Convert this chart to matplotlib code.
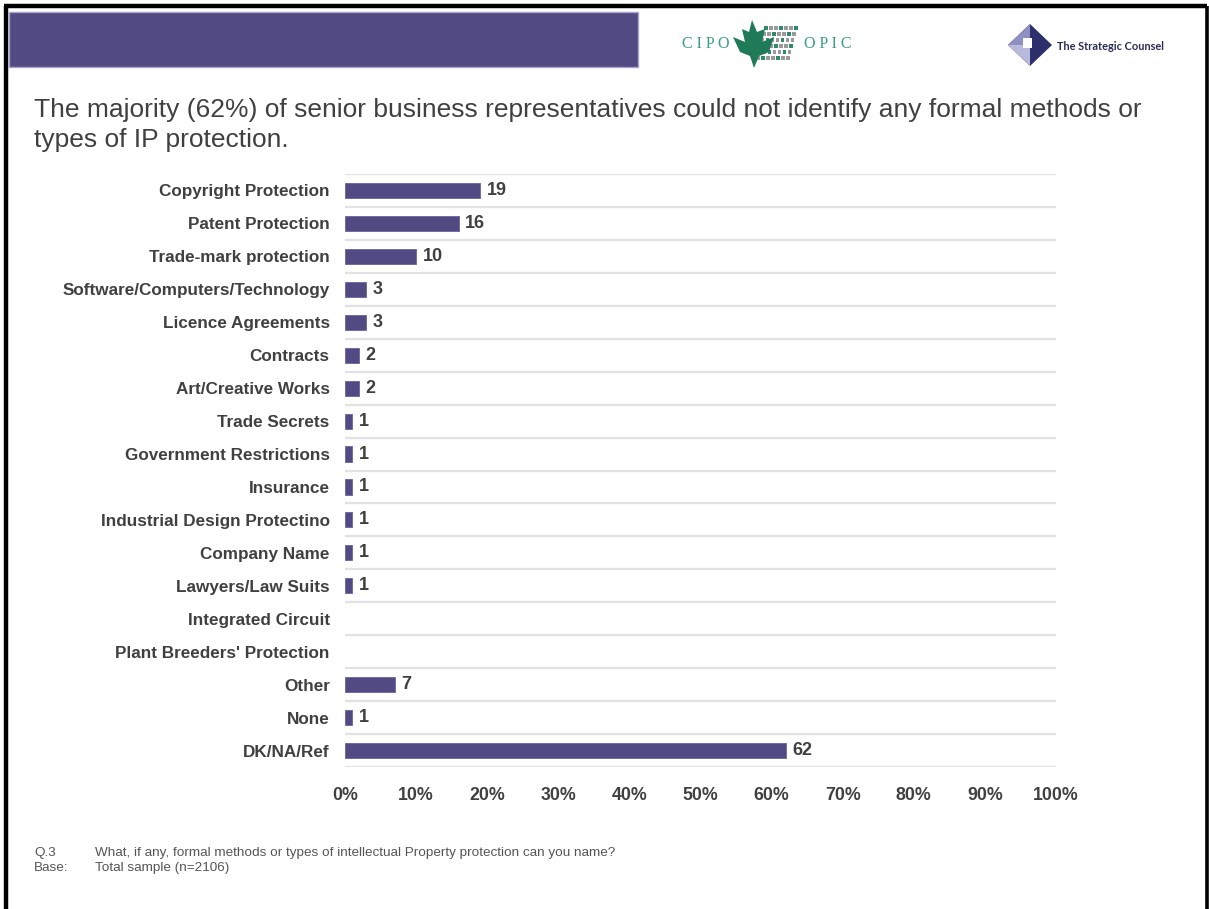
import numpy as np
import matplotlib
matplotlib.use("Agg")
import matplotlib.pyplot as plt
from matplotlib.patches import Rectangle, Polygon

plt.rcParams['font.family'] = ['Liberation Sans', 'DejaVu Sans']

categories = ["Copyright Protection", "Patent Protection", "Trade-mark protection",
              "Software/Computers/Technology", "Licence Agreements", "Contracts",
              "Art/Creative Works", "Trade Secrets", "Government Restrictions",
              "Insurance", "Industrial Design Protectino", "Company Name",
              "Lawyers/Law Suits", "Integrated Circuit", "Plant Breeders' Protection",
              "Other", "None", "DK/NA/Ref"]
values = [19, 16, 10, 3, 3, 2, 2, 1, 1, 1, 1, 1, 1, None, None, 7, 1, 62]
xticks = [0, 10, 20, 30, 40, 50, 60, 70, 80, 90, 100]

W, H = 1209, 909
purple = "#524a82"
txt = "#404040"

fig = plt.figure(figsize=(W / 100, H / 100), dpi=100)

# full-figure overlay in pixel coords for the slide decorations
deco = fig.add_axes([0, 0, 1, 1])
deco.set_xlim(0, W)
deco.set_ylim(H, 0)
deco.axis("off")

# slide frame (top, left, right)
deco.plot([6, 6], [6, H + 5], color="black", lw=3.2, solid_capstyle="butt")
deco.plot([4, W - 2], [6, 6], color="black", lw=3.2, solid_capstyle="butt")
deco.plot([W - 2.5, W - 2.5], [6, H + 5], color="black", lw=2.6, solid_capstyle="butt")

# header band
deco.add_patch(Rectangle((9, 12), 629, 55, facecolor=purple, edgecolor="#a9a4cc", lw=1))

# CIPO / OPIC logo
teal = "#3a9e85"
deco.text(706, 44, "C I P O", color=teal, fontsize=11.5, family="Liberation Serif",
          ha="center", va="center")
deco.text(828, 44, "O P I C", color=teal, fontsize=11.5, family="Liberation Serif",
          ha="center", va="center")
for i in range(7):
    for j in range(6):
        deco.add_patch(Rectangle((764 + i * 5 - j * 1.6, 26 + j * 6), 3.5, 4,
                                 facecolor="#2e8b6a" if (i + j) % 3 == 0 else "#9a9a9a",
                                 edgecolor="none"))
leaf = [(752, 20), (757, 32), (765, 29), (762, 42), (774, 37), (769, 52), (759, 56),
        (754, 68), (750, 56), (740, 52), (733, 37), (745, 42), (742, 29), (749, 32)]
deco.add_patch(Polygon(leaf, closed=True, facecolor="#1f7a57", edgecolor="none"))

# Strategic Counsel logo
deco.add_patch(Polygon([(1030, 24), (1052, 45), (1030, 66), (1008, 45)], closed=True,
                       facecolor="#2c2f6b", edgecolor="none"))
deco.add_patch(Polygon([(1030, 24), (1030, 45), (1008, 45)], closed=True,
                       facecolor="#8f8fc4", edgecolor="none"))
deco.add_patch(Polygon([(1030, 45), (1030, 66), (1008, 45)], closed=True,
                       facecolor="#b9b9dc", edgecolor="none"))
deco.add_patch(Rectangle((1023, 38), 9, 10, facecolor="white", edgecolor="none"))
deco.text(1057, 46, "The Strategic Counsel", color="#2a2d55", fontsize=7.9,
          family="Lato", fontweight="bold", ha="left", va="center")

# headline (two lines placed separately)
deco.text(34, 110, "The majority (62%) of senior business representatives could not identify any formal methods or",
          color=txt, fontsize=19.0, ha="left", va="center")
deco.text(34, 140, "types of IP protection.", color=txt, fontsize=19.0, ha="left", va="center")

# footnote
fn = dict(color="#555555", fontsize=9.7, ha="left", va="center")
deco.text(34, 853, "Q.3", **fn)
deco.text(95, 853, "What, if any, formal methods or types of intellectual Property protection can you name?", **fn)
deco.text(34, 868, "Base:", **fn)
deco.text(95, 868, "Total sample (n=2106)", **fn)

# chart
ax = fig.add_axes([345 / W, 1 - 767 / H, 711 / W, 593 / H])
y = np.arange(len(categories))
has = [i for i, v in enumerate(values) if v is not None]
ax.barh(y[has], [values[i] for i in has], height=0.46, color=purple,
        edgecolor="#6a62a0", lw=0.6, zorder=3)
for i in has:
    ax.text(values[i] + 0.9, y[i], str(values[i]), color=txt, fontsize=13,
            fontweight="bold", ha="left", va="center")

ax.set_xlim(0, 100)
ax.set_ylim(len(categories) - 0.5, -0.5)
for g in np.arange(-0.5, len(categories), 1.0):
    ax.axhline(g, color="#e2e2e2", lw=1.6, zorder=1)
ax.set_yticks(y)
ax.set_yticklabels(categories, fontsize=12.3, fontweight="bold", color=txt)
ax.set_xticks(xticks)
ax.set_xticklabels([f"{t}%" for t in xticks], fontsize=12.8, fontweight="bold", color=txt)
ax.tick_params(axis="both", length=0)
ax.tick_params(axis="y", pad=11)
ax.tick_params(axis="x", pad=14.5)
for s in ax.spines.values():
    s.set_visible(False)
ax.patch.set_alpha(0)

fig.savefig("out.png", dpi=100)
